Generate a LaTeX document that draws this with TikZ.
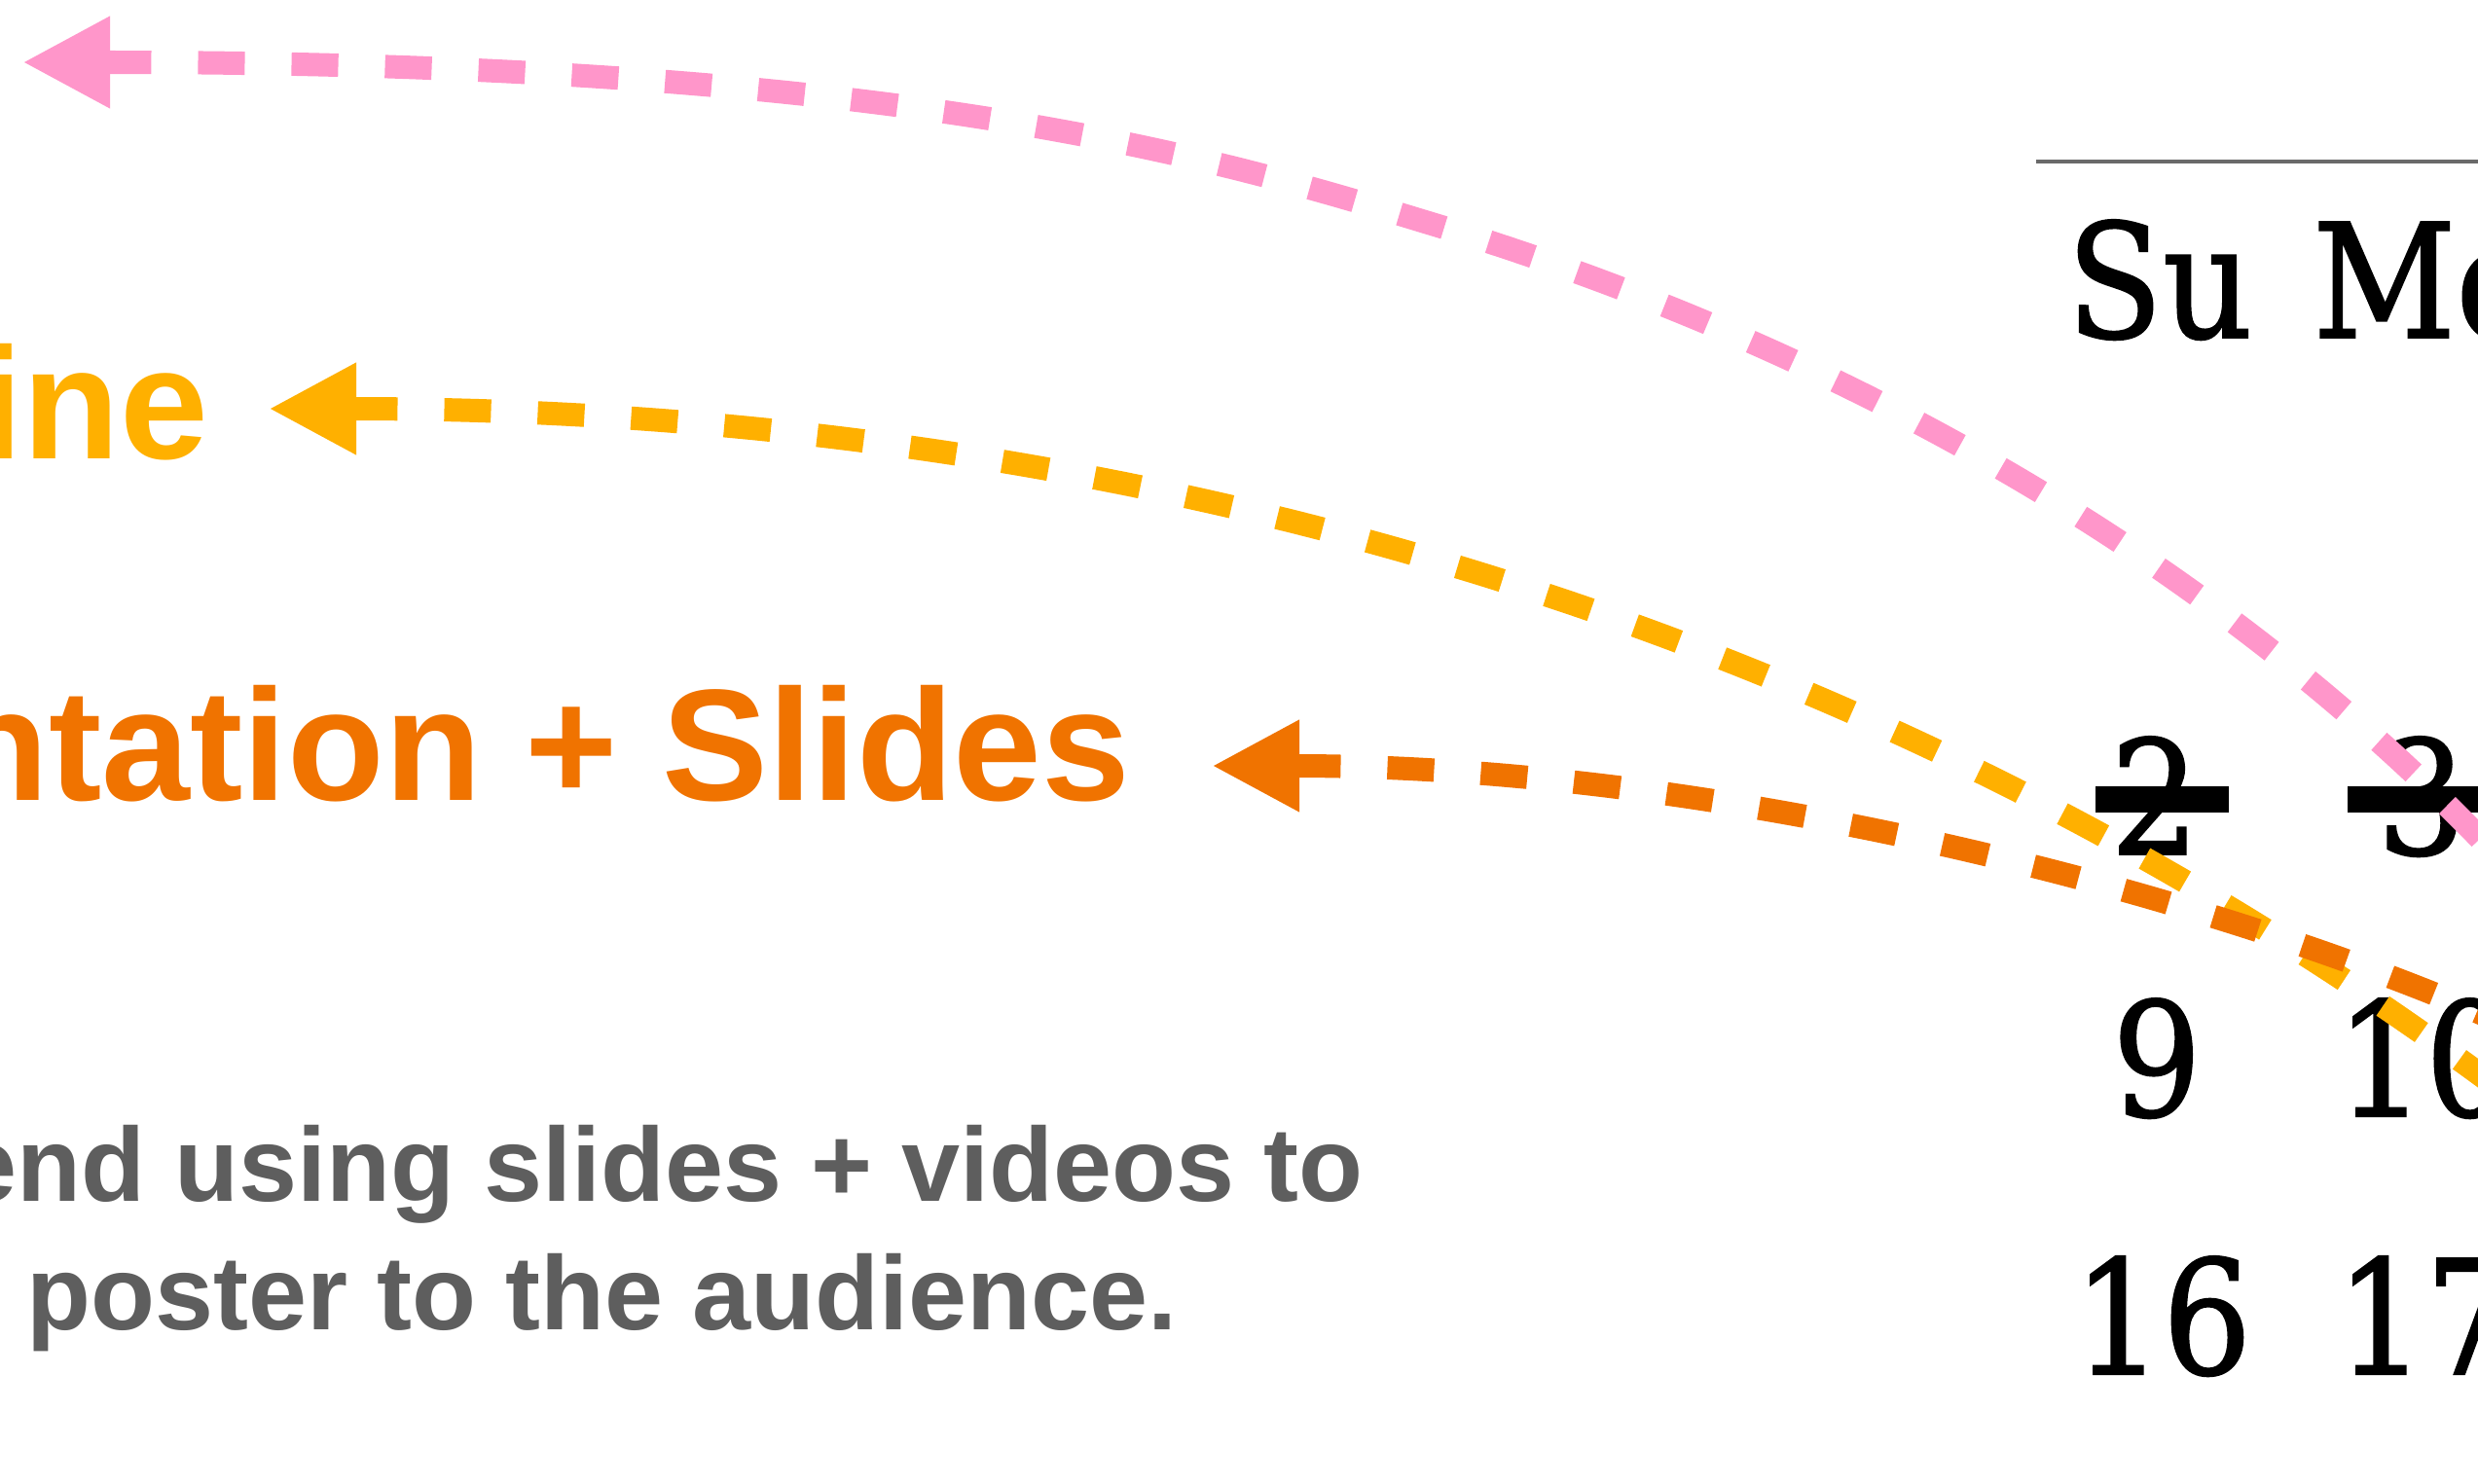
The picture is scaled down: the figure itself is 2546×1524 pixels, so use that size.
\documentclass[tikz,border=0pt]{standalone}
\usepackage{fontspec}
\usetikzlibrary{arrows.meta}
\newfontfamily\labelfont{Liberation Sans}
\newfontfamily\calfont{DejaVu Serif}[FakeStretch=0.88,FakeBold=1.2]
\definecolor{pinkc}{HTML}{FF96CA}
\definecolor{yellowc}{HTML}{FFB000}
\definecolor{orangec}{HTML}{F07300}
\definecolor{grayc}{HTML}{5E5E5E}
\definecolor{rulec}{HTML}{6A6A6A}
\begin{document}
\begin{tikzpicture}[x=0.01cm,y=-0.01cm,
  flowline/.style={line width=0.24cm, dash pattern=on 0.48cm off 0.48cm,
    arrows={Triangle[length=0.9cm,width=0.88cm]-}},
  bigtext/.style={inner sep=0pt, font=\labelfont\bfseries\fontsize{46.4}{50}\selectfont},
  bodytext/.style={inner sep=0pt, text=grayc, font=\labelfont\bfseries\fontsize{30.7}{36}\selectfont},
  caltext/.style={inner sep=0pt, anchor=base, font=\calfont\fontsize{46.4}{50}\selectfont},
  strikebar/.style={fill=black},
  calrule/.style={draw=rulec, line width=0.04cm}]
\useasboundingbox (0,0) rectangle (2546,1524);
\clip (0,0) rectangle (2546,1524);
% left texts
\node[bigtext, text=yellowc, anchor=base east] (onl) at (215,471) {ine};
\node[bigtext, text=orangec, anchor=base east] (pres) at (1162,822) {ntation + Slides};
\node[bodytext, anchor=base east] (body1) at (1401,1234) {end using slides + videos to};
\node[bodytext, anchor=base west] (body2) at (27,1366) {poster to the audience.};
% calendar
\coordinate (rulestart) at (2092,166);
\coordinate (ruleend) at (2600,166);
\draw[calrule] (rulestart) -- (ruleend);
\node[caltext] (su) at (2219,347) {Su};
\node[caltext] (mo) at (2493,347) {Mo};
\node[caltext] (d2) at (2214,878) {2};
\node[caltext] (d3) at (2488,878) {3};
\node[caltext] (d9) at (2216,1147) {9};
\node[caltext] (d10) at (2492,1147) {10};
\node[caltext] (d16) at (2222,1412) {16};
\node[caltext] (d17) at (2492,1412) {17};
\fill[strikebar] (2153,808) rectangle (2290,835);
\fill[strikebar] (2412,808) rectangle (2600,835);
% connectors
\coordinate (pinktip) at (23,64);
\coordinate (pinkmid) at (1461,227);
\coordinate (pinkend) at (2600,917);
\coordinate (yellowtip) at (276,420);
\coordinate (yellowend) at (2600,1143);
\coordinate (orangetip) at (1245,787);
\coordinate (orangeend) at (2600,1064);
\draw[flowline, pinkc] (pinktip) .. controls (900,64) and (1222,154) .. (pinkmid)
  .. controls (1892,356) and (2299,583) .. (pinkend);
\draw[flowline, yellowc] (yellowtip) .. controls (1176,420) and (1953,650) .. (yellowend);
\draw[flowline, orangec] (orangetip) .. controls (1800,787) and (2328,937) .. (orangeend);
\end{tikzpicture}
\end{document}
